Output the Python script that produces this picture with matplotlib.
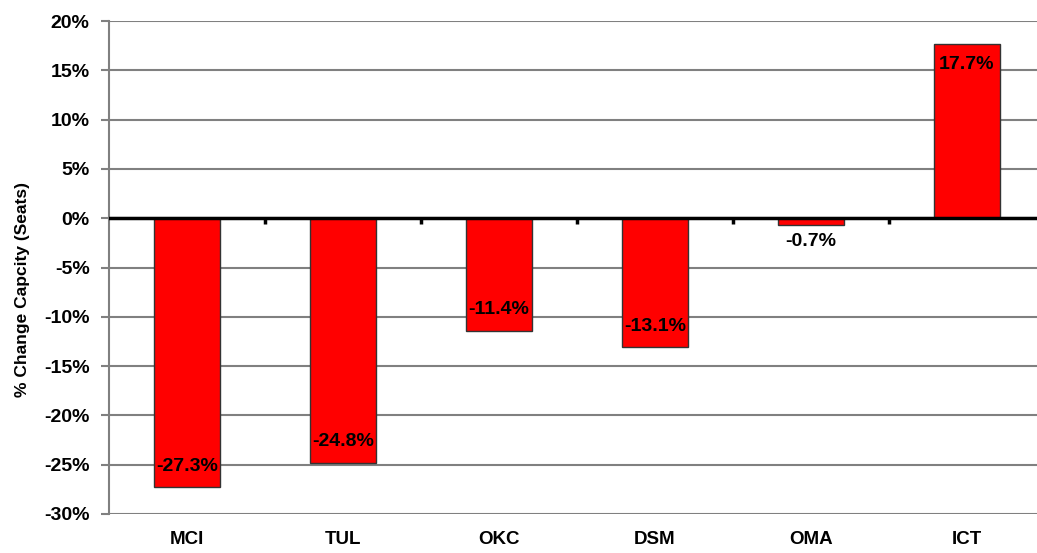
import matplotlib.pyplot as plt
from matplotlib.ticker import FuncFormatter

airports = ['MCI', 'TUL', 'OKC', 'DSM', 'OMA', 'ICT']
pct_change = [-27.3, -24.8, -11.4, -13.1, -0.7, 17.7]

plt.rcParams['font.family'] = ['Liberation Sans', 'DejaVu Sans']
plt.rcParams['font.weight'] = 'bold'

fig = plt.figure(figsize=(10.37, 5.53), dpi=100)
ax = fig.add_axes([109 / 1037, 1 - 514 / 553, 1 - 109 / 1037, (514 - 21) / 553])

x = range(len(airports))
ax.bar(x, pct_change, width=0.42, color='#ff0000', edgecolor='#333333', linewidth=1, zorder=3)

for xi, v in zip(x, pct_change):
    label = f'{v:.1f}%'
    if abs(v) < 3:
        ax.annotate(label, (xi, v), xytext=(0, -6), textcoords='offset points',
                    ha='center', va='top', fontsize=14, fontweight='bold', zorder=4)
    elif v < 0:
        ax.annotate(label, (xi, v), xytext=(0, 15), textcoords='offset points',
                    ha='center', va='center', fontsize=14, fontweight='bold', zorder=4)
    else:
        ax.annotate(label, (xi, v), xytext=(0, -15), textcoords='offset points',
                    ha='center', va='center', fontsize=14, fontweight='bold', zorder=4)

ax.set_ylim(-30, 20)
ax.set_xlim(-0.5, 5.45)
ax.set_yticks(range(-30, 25, 5))
ax.yaxis.set_major_formatter(FuncFormatter(lambda v, p: f'{v:.0f}%'))
ax.yaxis.grid(True, color='#808080', linewidth=1.5, zorder=0)
ax.tick_params(axis='y', labelsize=14, color='#808080', width=1.5, length=6, pad=8)

# category labels at the bottom, no ticks
ax.set_xticks(list(x))
ax.set_xticklabels(airports, fontsize=13.5, fontweight='bold')
ax.tick_params(axis='x', length=0, pad=12)

# zero line with separator ticks
ax.axhline(0, color='black', linewidth=2.5, zorder=5)
for b in [i + 0.5 for i in range(len(airports) - 1)]:
    ax.plot([b, b], [0, -0.6], color='black', linewidth=2.5, zorder=5, solid_capstyle='butt')

for side in ['top', 'right', 'bottom']:
    ax.spines[side].set_visible(False)
ax.spines['left'].set_color('#808080')
ax.spines['left'].set_linewidth(1.5)

ax.set_ylabel('% Change Capcity (Seats)', fontsize=12.5, fontweight='bold')
ax.yaxis.set_label_coords(-0.085, 0.456)

plt.savefig('out.png', dpi=100)
